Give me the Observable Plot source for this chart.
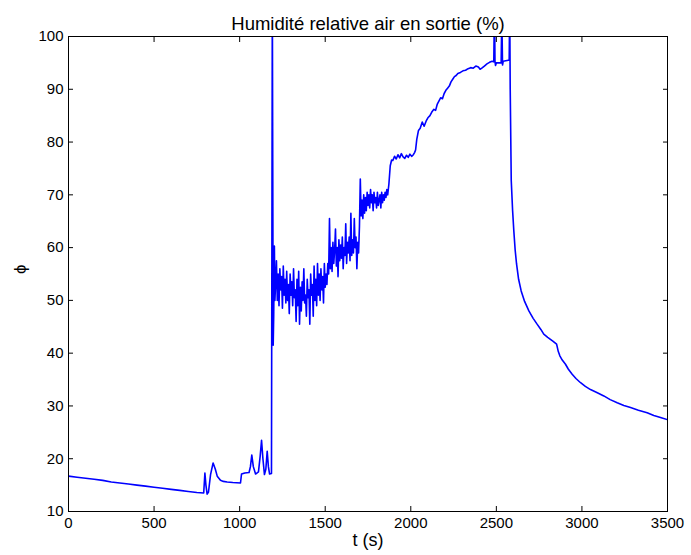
<!DOCTYPE html>
<html>
<head>
<meta charset="utf-8">
<script src="https://cdn.jsdelivr.net/npm/d3@7"></script>
<script src="https://cdn.jsdelivr.net/npm/@observablehq/plot@0.6"></script>
<style>
  html, body { margin: 0; padding: 0; background: #fff; }
  #chart svg text.lbl { letter-spacing: 0.4px; }
  #chart svg text.ttl { letter-spacing: 0.3px; }
</style>
</head>
<body>
<div id="chart"></div>
<script>
// ---- text ----
const titleText = "Humidité relative air en sortie (%)";
const xLabel = "t (s)";
const yLabel = "ϕ";

// ---- ticks ----
const xTicks = [0, 500, 1000, 1500, 2000, 2500, 3000, 3500];
const yTicks = [10, 20, 30, 40, 50, 60, 70, 80, 90, 100];

// ---- series: [t (s), phi (%)] ----
const cooling = [[0,16.7],[50,16.5],[100,16.3],[150,16.1],[200,15.9],[250,15.6],[300,15.4],[350,15.2],[400,15.0],[450,14.8],[500,14.6],[550,14.4],[600,14.2],[650,14.0],[700,13.8],[750,13.6],[790,13.5]];

const peaks = [[797,17.3],[803,15.0],[810,13.3],[818,13.7],[830,17.0],[845,19.2],[858,18.0],[869,16.7],[888,15.9],[905,15.7],[927,15.6],[960,15.5],[1005,15.4],[1011,17.1],[1030,17.3],[1055,17.4],[1063,18.5],[1071,20.7],[1080,18.5],[1093,17.1],[1110,17.5],[1120,20.5],[1128,23.5],[1136,20.0],[1145,17.0],[1153,18.0],[1161,21.4],[1168,18.5],[1175,17.1],[1186,17.2]];

const surge = [[1191,108],[1196,41.5],[1199,47],[1203,60.3],[1206,50]];

const noisyLow = [[1210,53],[1215,57.5],[1220,50],[1225,55],[1230,49],[1235,56],[1240,52],[1245,54.5],[1250,48.5],[1255,56.5],
[1260,51],[1265,54],[1270,49.5],[1275,55.5],[1280,50],[1285,53],[1290,47.5],[1295,55],[1300,51],[1305,53.5],
[1310,49],[1315,56],[1320,50.5],[1325,52],[1330,46],[1335,54],[1340,49],[1345,55.5],[1350,45.5],[1355,52.5],
[1360,48],[1365,53.5],[1370,50],[1375,56],[1380,49.5],[1385,51],[1390,47],[1395,54],[1400,50.5],[1405,52],
[1410,45.5],[1415,55],[1420,51],[1425,53],[1430,47],[1435,56.5],[1440,50],[1445,54],[1450,49],[1455,57],
[1460,51],[1465,55],[1470,50],[1475,56],[1480,52],[1485,54.5],[1490,49.5],[1495,57],[1500,52.5],[1505,55]];

const noisyMid = [[1510,53],[1515,57],[1520,55],[1525,65.5],[1530,56],[1535,60],[1540,55.5],[1545,61],[1550,57],[1555,59.5],
[1560,63.5],[1565,56.5],[1570,60],[1575,54.5],[1580,61.5],[1585,57.5],[1590,60.5],[1595,58],[1600,62],[1605,56],
[1610,60],[1615,58.5],[1620,64.5],[1625,57],[1630,61],[1635,59],[1640,62],[1645,57.5],[1650,66.5],[1655,58.5],
[1660,61.5],[1665,59],[1670,65.5],[1675,60],[1680,62],[1685,56],[1690,61],[1695,59]];

const noisyHigh = [[1700,64],[1705,73],[1710,66],[1715,69],[1720,65.5],[1725,70],[1730,66.5],[1735,69.5],[1740,67],[1745,70.5],
[1750,68],[1755,70],[1760,67.5],[1765,71],[1770,68.5],[1775,70],[1780,67],[1785,70.5],[1790,68.5],[1795,69.5],
[1800,67.5],[1805,70.5],[1810,68],[1815,69],[1820,70],[1825,67.5],[1830,70.5],[1835,68.5],[1840,70],[1845,69],
[1850,70.5],[1855,69.5],[1860,71],[1865,70]];

const plateau = [[1872,72],[1880,75.5],[1888,76.6],[1895,76.5],[1905,77.3],[1915,76.8],[1925,77.6],[1935,77.0],[1945,77.8],[1955,77.2],[1965,76.9],[1975,77.5],[1985,77.1],[1995,77.7],[2005,77.3],[2015,77.6],[2022,78.0]];

const climb = [[2028,78.5],[2035,80.5],[2045,82.2],[2055,82.6],[2067,83.8],[2078,83.0],[2090,84.0],[2100,84.6],[2112,85.0],[2125,85.8],[2135,86.2],[2145,86.0],[2155,87.2],[2165,87.8],[2175,88.4],[2185,88.2],[2195,89.2],[2205,89.8],[2215,90.2],[2225,90.6],[2235,91.4],[2245,91.9],[2255,92.4],[2265,92.6],[2275,93.0],[2290,93.2],[2305,93.5],[2320,93.6],[2335,93.9],[2350,94.1],[2365,94.0],[2380,94.4],[2395,94.2],[2405,93.8],[2415,94.0],[2430,94.4],[2445,94.8],[2460,95.1],[2475,95.3],[2485,95.2]];

const saturation = [[2489,106],[2492,95.3],[2495,94.5],[2500,95.0],[2515,95.0],[2528,95.0],[2532,104],[2536,94.6],[2540,95.3],[2555,95.4],[2570,95.5],[2575,95.5],[2578,106]];

const drying = [[2581,90],[2587,72.7],[2595,67],[2602,63.2],[2610,59.5],[2618,56.9],[2630,54],[2645,51.8],[2665,49.8],[2690,48.0],[2715,46.6],[2738,45.5],[2760,44.5],[2777,43.6],[2800,43.0],[2830,42.3],[2852,41.7],[2862,40.3],[2871,39.5],[2885,38.7],[2904,37.9],[2920,37.0],[2943,36.0],[2965,35.2],[2992,34.4],[3020,33.7],[3050,33.1],[3090,32.5],[3128,31.9],[3165,31.2],[3206,30.6],[3245,30.1],[3284,29.7],[3330,29.2],[3381,28.7],[3420,28.2],[3459,27.8],[3500,27.4]];

const series = [...cooling, ...peaks, ...surge, ...noisyLow, ...noisyMid, ...noisyHigh, ...plateau, ...climb, ...saturation, ...drying]
  .map(([t, phi]) => ({t, phi}));

const font = "'Liberation Sans', Arial, Helvetica, sans-serif";

const chart = Plot.plot({
  width: 691,
  height: 555,
  marginLeft: 68,
  marginRight: 24,
  marginTop: 36,
  marginBottom: 44,
  style: {fontFamily: font, fontSize: "15px", color: "#000", background: "#fff", overflow: "visible"},
  x: {domain: [0, 3500]},
  y: {domain: [10, 100]},
  marks: [
    Plot.line(series, {x: "t", y: "phi", stroke: "#0000ff", strokeWidth: 1.6, clip: true}),
    Plot.frame({stroke: "#000", strokeWidth: 1}),
    // inward ticks on all four sides
    Plot.axisX(xTicks, {anchor: "bottom", tickSize: -5, tickFormat: () => "", label: null, stroke: "#000", strokeOpacity: 1}),
    Plot.axisX(xTicks, {anchor: "top", tickSize: -5, tickFormat: () => "", label: null, stroke: "#000", strokeOpacity: 1}),
    Plot.axisY(yTicks, {anchor: "left", tickSize: -5, tickFormat: () => "", label: null, stroke: "#000", strokeOpacity: 1}),
    Plot.axisY(yTicks, {anchor: "right", tickSize: -5, tickFormat: () => "", label: null, stroke: "#000", strokeOpacity: 1}),
    // tick labels
    Plot.axisX(xTicks, {anchor: "bottom", tickSize: 0, tickPadding: 6, tickFormat: d => String(d), label: null, fill: "#000", className: "lbl"}),
    Plot.axisY(yTicks, {anchor: "left", tickSize: 0, tickPadding: 5, tickFormat: d => String(d), label: null, fill: "#000", className: "lbl"}),
    // title and axis labels
    Plot.text([titleText], {text: d => d, frameAnchor: "top", dy: -20, fontSize: 18.5, fill: "#000", className: "ttl"}),
    Plot.text([xLabel], {text: d => d, frameAnchor: "bottom", dy: 34, fontSize: 18, fill: "#000", className: "lbl"}),
    Plot.text([yLabel], {text: d => d, frameAnchor: "left", dx: -48, rotate: -90, fontSize: 17, fill: "#000"})
  ]
});
document.getElementById("chart").appendChild(chart);
</script>
</body>
</html>
